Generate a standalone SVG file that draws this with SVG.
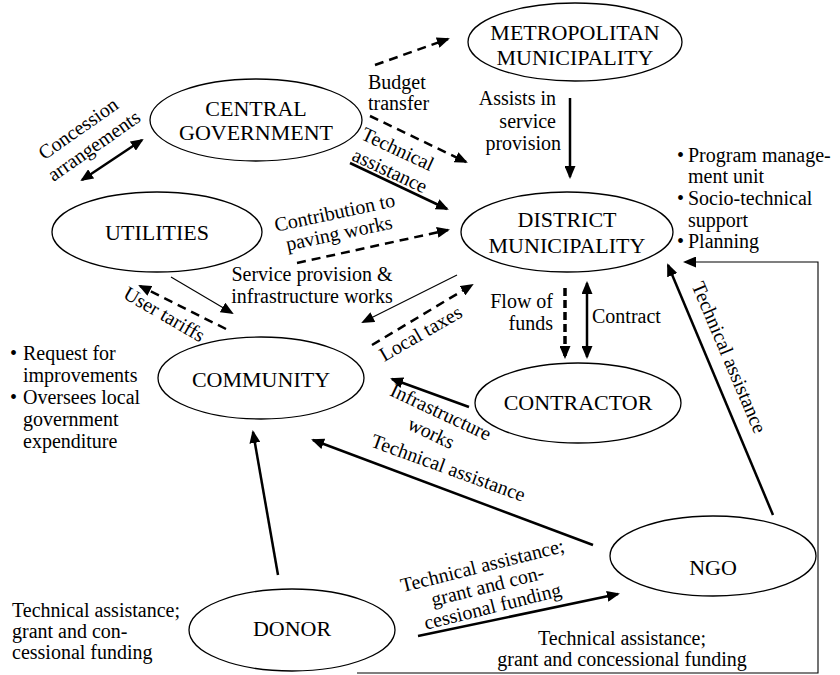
<svg xmlns="http://www.w3.org/2000/svg" width="840" height="675" viewBox="0 0 840 675">
<defs>
<style>
text{font-family:"Liberation Serif","Times New Roman",serif;fill:#000}
.node{font-size:22px;text-anchor:middle}
.lbl{font-size:20px}
.mid{text-anchor:middle}
.end{text-anchor:end}
ellipse{fill:#fff;stroke:#000;stroke-width:1.3}
.solid{fill:none;stroke:#000;stroke-width:2.5}
.dash{fill:none;stroke:#000;stroke-width:2.5;stroke-dasharray:9 6}
.dash2{fill:none;stroke:#000;stroke-width:3.5;stroke-dasharray:8 4}
.thin{fill:none;stroke:#000;stroke-width:1.1}
</style>
<marker id="ah" viewBox="0 0 13 11" refX="11" refY="5.5" markerWidth="13" markerHeight="11" markerUnits="userSpaceOnUse" orient="auto-start-reverse">
<path d="M0,0 L13,5.5 L0,11 z" fill="#000" stroke="none"/>
</marker>
</defs>
<rect width="840" height="675" fill="#fff"/>

<g id="connectors">
<path class="dash" d="M375,65 L448,39" marker-end="url(#ah)"/>
<path class="dash" d="M370,116 L466,162" marker-end="url(#ah)"/>
<path class="solid" d="M350,163 L447,209" marker-end="url(#ah)"/>
<path class="solid" d="M570,98 L570,177" marker-end="url(#ah)"/>
<path class="solid" d="M82,180 L142,140" marker-start="url(#ah)" marker-end="url(#ah)"/>
<path class="dash" d="M297,263 L448,230" marker-end="url(#ah)"/>
<path class="thin" d="M171,277 L232,313" marker-end="url(#ah)"/>
<path class="dash" d="M226,329 L140,286" marker-end="url(#ah)"/>
<path class="thin" d="M457,275 L363,322" marker-end="url(#ah)"/>
<path class="dash" d="M372,345 L472,285" marker-end="url(#ah)"/>
<path class="dash2" d="M565,288 L565,357" marker-end="url(#ah)"/>
<path class="solid" d="M587,283 L587,357" marker-start="url(#ah)" marker-end="url(#ah)"/>
<path class="solid" d="M469,407 L392,379" marker-end="url(#ah)"/>
<path class="solid" d="M593,545 L313,440" marker-end="url(#ah)"/>
<path class="solid" d="M278,575 L253,432" marker-end="url(#ah)"/>
<path class="solid" d="M773,515 L668,265" marker-end="url(#ah)"/>
<path class="solid" d="M418,636 L618,594" marker-end="url(#ah)"/>
<path class="thin" d="M357,673 L818,673 L818,262 L685,262" marker-end="url(#ah)"/>
</g>

<g id="labels" class="lbl">
<g transform="translate(82,134) rotate(-35)"><text class="mid" x="0" y="0">Concession</text><text class="mid" x="3" y="23">arrangements</text></g>
<text x="368" y="89">Budget</text>
<text x="368" y="110">transfer</text>
<g transform="translate(395,155) rotate(25)"><text class="mid" x="0" y="0">Technical</text><text class="mid" x="2" y="23">assistance</text></g>
<text class="end" x="556" y="105">Assists in</text>
<text class="end" x="556" y="128">service</text>
<text class="end" x="561" y="150">provision</text>
<g transform="translate(336,219) rotate(-12)"><text class="mid" x="0" y="0">Contribution to</text><text class="mid" x="0" y="21">paving works</text></g>
<text class="mid" x="312" y="281">Service provision &amp;</text>
<text class="mid" x="312" y="303">infrastructure works</text>
<text class="mid" transform="translate(161,320) rotate(30)">User tariffs</text>
<text class="mid" transform="translate(424,339) rotate(-30)">Local taxes</text>
<text class="end" x="553" y="308">Flow of</text>
<text class="end" x="553" y="330">funds</text>
<text x="592" y="323">Contract</text>
<g transform="translate(438,418) rotate(25)"><text class="mid" x="0" y="0">Infrastructure</text><text class="mid" x="0" y="23">works</text></g>
<text class="mid" transform="translate(446,474) rotate(20)">Technical assistance</text>
<text class="mid" transform="translate(723,360) rotate(67)">Technical assistance</text>
<g transform="translate(484,572) rotate(-14)"><text class="mid" x="0" y="0">Technical assistance;</text><text class="mid" x="0" y="21">grant and con-</text><text class="mid" x="0" y="42">cessional funding</text></g>
<text x="12" y="617">Technical assistance;</text>
<text x="12" y="638">grant and con-</text>
<text x="12" y="659">cessional funding</text>
<text class="mid" x="622" y="645">Technical assistance;</text>
<text class="mid" x="622" y="666">grant and concessional funding</text>
<text x="677" y="162">•</text><text x="688" y="162">Program manage-</text>
<text x="688" y="183">ment unit</text>
<text x="677" y="205">•</text><text x="688" y="205">Socio-technical</text>
<text x="688" y="227">support</text>
<text x="677" y="248">•</text><text x="688" y="248">Planning</text>
<text x="10" y="360">•</text><text x="23" y="360">Request for</text>
<text x="23" y="382">improvements</text>
<text x="10" y="404">•</text><text x="23" y="404">Oversees local</text>
<text x="23" y="426">government</text>
<text x="23" y="448">expenditure</text>
</g>

<g id="metropolitan"><ellipse cx="575" cy="42" rx="107" ry="39"/><text class="node" x="575" y="40">METROPOLITAN</text><text class="node" x="575" y="65">MUNICIPALITY</text></g>
<g id="central"><ellipse cx="256" cy="120" rx="106" ry="41"/><text class="node" x="256" y="116">CENTRAL</text><text class="node" x="256" y="140">GOVERNMENT</text></g>
<g id="utilities"><ellipse cx="157" cy="232" rx="105" ry="40"/><text class="node" x="157" y="240">UTILITIES</text></g>
<g id="district"><ellipse cx="567" cy="232" rx="106" ry="40"/><text class="node" x="567" y="227">DISTRICT</text><text class="node" x="567" y="253">MUNICIPALITY</text></g>
<g id="community"><ellipse cx="261" cy="378" rx="103" ry="41"/><text class="node" x="261" y="387">COMMUNITY</text></g>
<g id="contractor"><ellipse cx="578" cy="403" rx="103" ry="40"/><text class="node" x="578" y="410">CONTRACTOR</text></g>
<g id="ngo"><ellipse cx="713" cy="556" rx="103" ry="40"/><text class="node" x="713" y="575">NGO</text></g>
<g id="donor"><ellipse cx="292" cy="630" rx="103" ry="41"/><text class="node" x="292" y="636">DONOR</text></g>
</svg>
